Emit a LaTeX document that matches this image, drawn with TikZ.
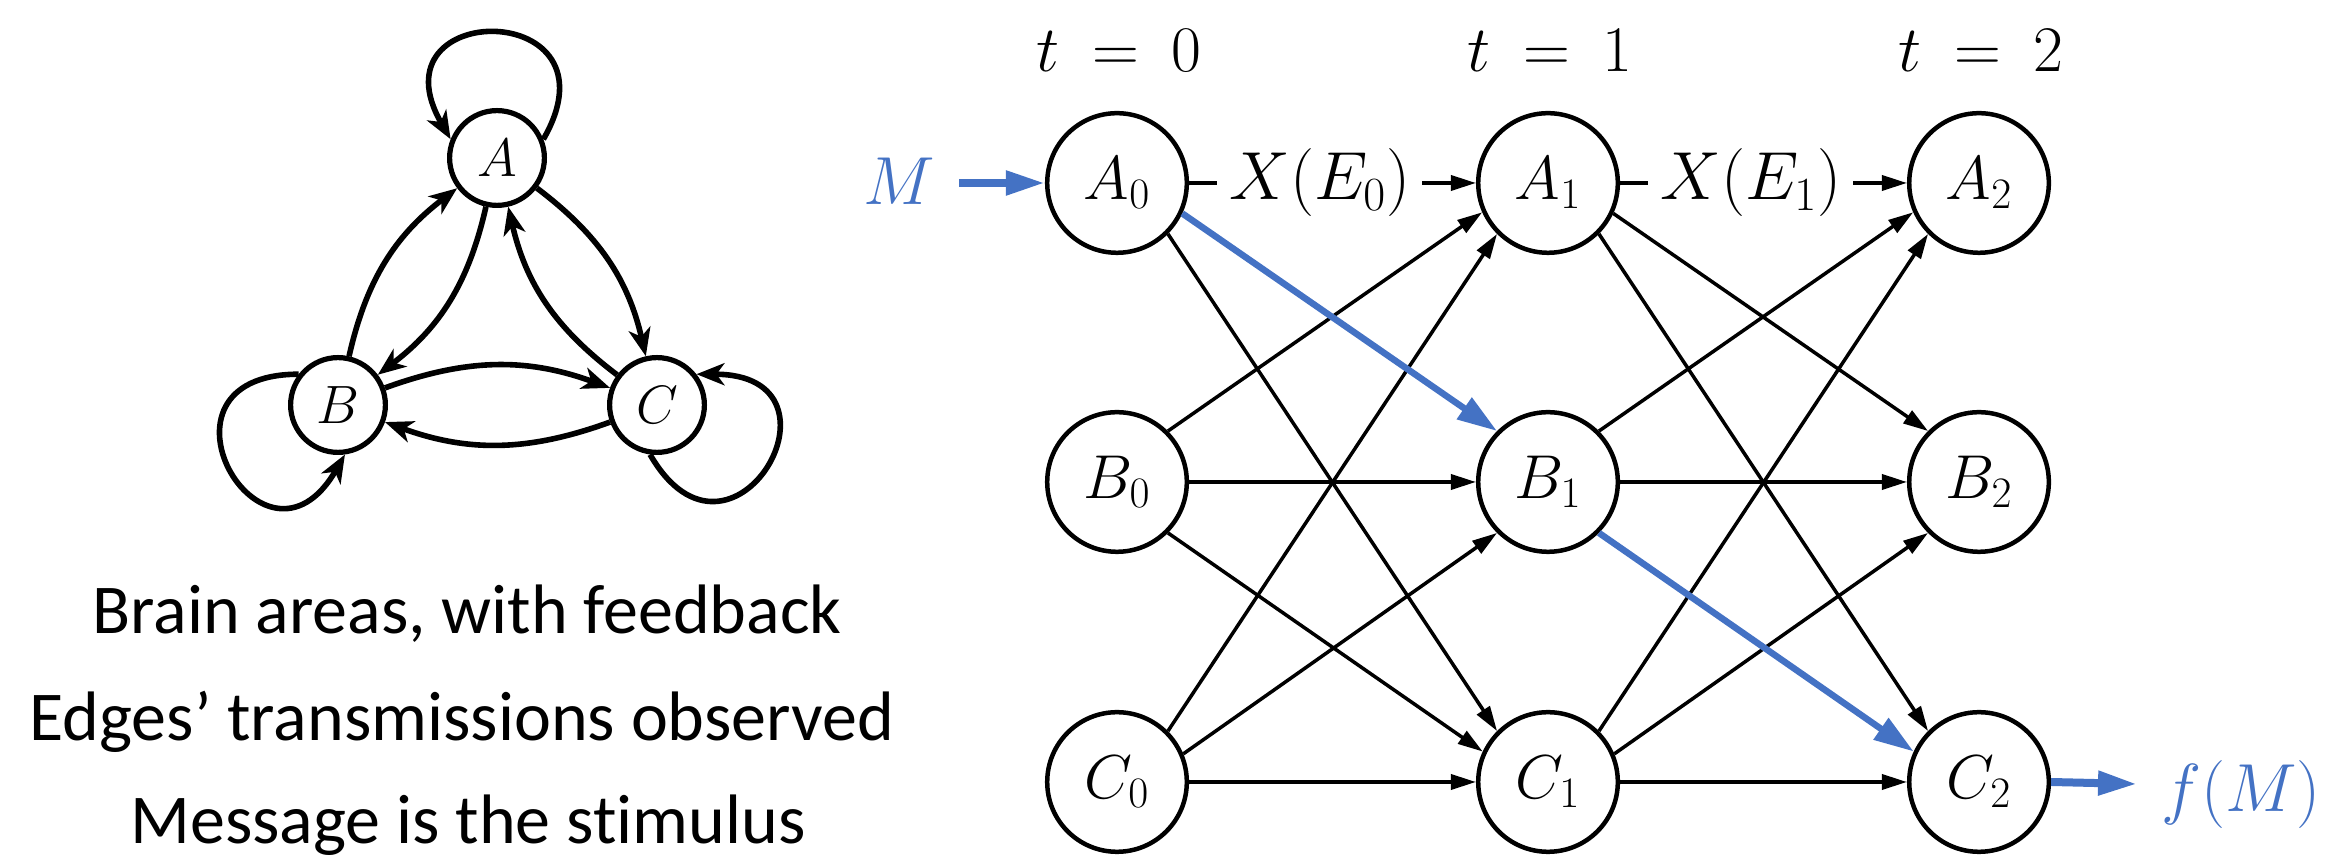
\RequirePackage{fix-cm}
\documentclass[tikz,border=0pt]{standalone}
\usepackage[no-math]{fontspec}
\newfontfamily\calibri[Ligatures=NoCommon]{Carlito}
\usetikzlibrary{arrows.meta}
\definecolor{pblue}{HTML}{4472C4}

\tikzset{
  area/.style={circle, draw, line width=2.6pt, minimum size=47.4pt, inner sep=0pt,
    font=\fontsize{27}{30}\selectfont},
  tnode/.style={circle, draw, line width=2.25pt, minimum size=69.8pt, inner sep=0pt,
    font=\fontsize{31}{36}\selectfont},
  fb/.style={line width=2.8pt, -{Stealth[length=14pt,width=11pt,inset=4pt]}},
  link/.style={line width=1.75pt, -{Triangle[length=12.5pt,width=7.5pt]}},
  hot/.style={pblue, line width=3.25pt, -{Triangle[length=20pt,width=12.5pt]}},
  io/.style={pblue, line width=4pt, -{Triangle[length=19.5pt,width=11.5pt]}},
  tlabel/.style={font=\fontsize{32.5}{36}\selectfont, inner sep=0pt, anchor=base},
  elabel/.style={fill=white, inner xsep=6pt, inner ysep=2pt, font=\fontsize{34}{40}\selectfont},
  caption/.style={font=\calibri\fontsize{35}{40}\selectfont, inner sep=0pt, anchor=base},
}

\begin{document}
\begin{tikzpicture}[x=0.5pt, y=0.5pt]
\useasboundingbox (0,0) rectangle (2332,860);

% ---- brain areas with feedback ----
\node[area] (A) at (497,702) {$A$};
\node[area] (B) at (338,455) {$B$};
\node[area] (C) at (657,455) {$C$};

\draw[fb] (A.22)  .. controls +(60:163)  and +(120:163) .. (A.158);
\draw[fb] (B.142) .. controls +(180:163) and +(240:163) .. (B.278);
\draw[fb] (C.262) .. controls +(300:163) and +(0:163)   .. (C.38);

\draw[fb] (A) to[bend left=20] (B);
\draw[fb] (B) to[bend left=20] (A);
\draw[fb] (A) to[bend left=20] (C);
\draw[fb] (C) to[bend left=20] (A);
\draw[fb] (B) to[bend left=20] (C);
\draw[fb] (C) to[bend left=20] (B);

\node[caption] (cap1) at (467,226) {Brain areas, with feedback};
\node[caption] (cap2) at (462,119) {Edges’ transmissions observed};
\node[caption] (cap3) at (468,16)  {Message is the stimulus};

% ---- unrolled network over time ----
\node[tlabel] (t0) at (1119,788) {$t\:=\:0$};
\node[tlabel] (t1) at (1550,788) {$t\:=\:1$};
\node[tlabel] (t2) at (1981,788) {$t\:=\:2$};

\node[tnode] (A0) at (1117,677) {$A_0$};
\node[tnode] (B0) at (1117,378) {$B_0$};
\node[tnode] (C0) at (1117,78)  {$C_0$};
\node[tnode] (A1) at (1548,677) {$A_1$};
\node[tnode] (B1) at (1548,378) {$B_1$};
\node[tnode] (C1) at (1548,78)  {$C_1$};
\node[tnode] (A2) at (1979,677) {$A_2$};
\node[tnode] (B2) at (1979,378) {$B_2$};
\node[tnode] (C2) at (1979,78)  {$C_2$};

% step 0 -> 1
\draw[link] (A0.east) -- node[elabel, pos=0.456] (x0) {$X(E_0)$} (A1.west);
\draw[link] (A0.315) -- (C1.135);
\draw[link] (B0.45)  -- (A1.204);
\draw[link] (B0.east) -- (B1.west);
\draw[link] (B0.315) -- (C1.155);
\draw[link] (C0.45)  -- (A1.225);
\draw[link] (C0.23)  -- (B1.225);
\draw[link] (C0.east) -- (C1.west);

% step 1 -> 2
\draw[link] (A1.east) -- node[elabel, pos=0.456] (x1) {$X(E_1)$} (A2.west);
\draw[link] (A1.335) -- (B2.135);
\draw[link] (A1.315) -- (C2.135);
\draw[link] (B1.45)  -- (A2.204);
\draw[link] (B1.east) -- (B2.west);
\draw[link] (C1.45)  -- (A2.225);
\draw[link] (C1.23)  -- (B2.225);
\draw[link] (C1.east) -- (C2.west);

% path of the message
\draw[hot] (A0.335) -- (B1.135);
\draw[hot] (B1.315) -- (C2.155);

% input and output
\node[pblue, font=\fontsize{34}{40}\selectfont, inner sep=0pt] (M) at (899,679) {$M$};
\coordinate (Min) at (959,677);
\draw[io] (Min) -- (A0.west);

\node[pblue, font=\fontsize{34}{40}\selectfont, inner sep=0pt, anchor=base] (fM) at (2241,48) {$f(M)$};
\coordinate (fMout) at (2137,76);
\draw[io] (C2.east) -- (fMout);
\end{tikzpicture}
\end{document}
